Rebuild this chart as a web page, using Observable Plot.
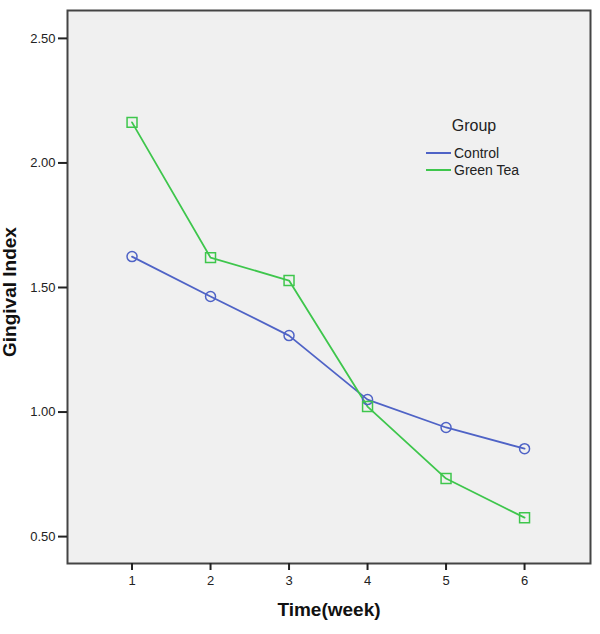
<!DOCTYPE html>
<html><head><meta charset="utf-8">
<script src="https://cdn.jsdelivr.net/npm/d3@7"></script>
<script src="https://cdn.jsdelivr.net/npm/@observablehq/plot@0.6"></script>
<style>body{margin:0;background:#fff;font-family:"Liberation Sans",Arial,sans-serif}</style>
</head><body><div id="chart"></div>
<script>
const weeks = [1, 2, 3, 4, 5, 6];
const groups = ["Control", "Green Tea"];
const control = [1.624, 1.464, 1.307, 1.05, 0.938, 0.853];
const greenTea = [2.163, 1.62, 1.528, 1.022, 0.733, 0.576];
const yTicks = [0.5, 1.0, 1.5, 2.0, 2.5];
const colors = ["#4f63c6", "#3ec64c"];

const data = [
  ...weeks.map((w, i) => ({week: w, value: control[i], group: groups[0]})),
  ...weeks.map((w, i) => ({week: w, value: greenTea[i], group: groups[1]}))
];

function legend(index, scales, values, dims) {
  const right = dims.width - dims.marginRight;
  const top = dims.marginTop;
  const g = d3.create("svg:g").attr("font-family", "Liberation Sans, Arial, sans-serif");
  g.append("text").attr("x", right - 116).attr("y", top + 115).attr("text-anchor", "middle")
    .attr("dy", "0.35em").attr("font-size", 16).attr("fill", "#222").text("Group");
  groups.forEach((name, i) => {
    const y = top + 143 + i * 17;
    g.append("line").attr("x1", right - 164).attr("x2", right - 139).attr("y1", y).attr("y2", y)
      .attr("stroke", colors[i]).attr("stroke-width", 2);
    g.append("text").attr("x", right - 136).attr("y", y).attr("dy", "0.35em").attr("text-anchor", "start")
      .attr("font-size", 14).attr("fill", "#222").text(name);
  });
  return g.node();
}

const chart = Plot.plot({
  width: 600,
  height: 634,
  marginLeft: 67,
  marginRight: 10,
  marginTop: 10,
  marginBottom: 71,
  style: {fontFamily: "Liberation Sans, Arial, sans-serif", fontSize: "13px", color: "#222", background: "#fff"},
  x: {domain: [0.178, 6.84], axis: null},
  y: {domain: [0.392, 2.612], axis: null},
  color: {domain: groups, range: colors},
  marks: [
    Plot.frame({fill: "#f0f0f0"}),
    Plot.line(data, {x: "week", y: "value", stroke: "group", strokeWidth: 1.8}),
    Plot.dot(data.filter(d => d.group === groups[0]), {x: "week", y: "value", stroke: colors[0], symbol: "circle", r: 5, strokeWidth: 1.5}),
    Plot.dot(data.filter(d => d.group === groups[1]), {x: "week", y: "value", stroke: colors[1], symbol: "square", r: 5.6, strokeWidth: 1.5}),
    Plot.frame({stroke: "#444", strokeWidth: 2}),
    Plot.axisY({ticks: yTicks, tickFormat: d3.format(".2f"), tickSize: 9, tickPadding: 3, stroke: "#222", strokeWidth: 2, label: null, fontSize: 13}),
    Plot.axisX({ticks: weeks, tickFormat: d3.format("d"), tickSize: 7, tickPadding: 5, stroke: "#222", strokeWidth: 2, label: null, fontSize: 13}),
    Plot.text(["Gingival Index"], {frameAnchor: "left", textAnchor: "middle", dx: -58, dy: 5, rotate: -90, text: d => d, fontSize: 19, fontWeight: "bold", fill: "#111"}),
    Plot.text(["Time(week)"], {frameAnchor: "bottom", dy: 52, text: d => d, fontSize: 19, fontWeight: "bold", fill: "#111"}),
    legend
  ]
});
document.getElementById("chart").appendChild(chart);
</script>
</body></html>
